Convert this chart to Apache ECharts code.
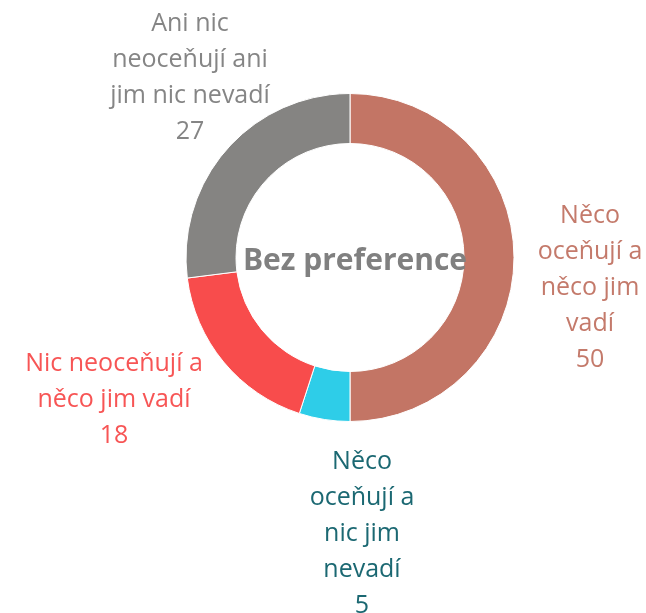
<!DOCTYPE html>
<html>
<head>
<meta charset="utf-8">
<script src="https://cdn.jsdelivr.net/npm/echarts@6/dist/echarts.min.js"></script>
<style>html,body{margin:0;padding:0;background:#fff;}#c{width:646px;height:613px;}</style>
</head>
<body>
<div id="c"></div>
<script>
const categories = [
  'Něco\noceňují a\nněco jim\nvadí',
  'Něco\noceňují a\nnic jim\nnevadí',
  'Nic neoceňují a\nněco jim vadí',
  'Ani nic\nneoceňují ani\njim nic nevadí'
];
const values = [50, 5, 18, 27];
const sliceColors = ['#C37565', '#2ECDE8', '#F84C4C', '#858482'];
const labelColors = ['#C47A6B', '#1B6872', '#F75555', '#858585'];
const centerTitle = 'Bez preference';

// label anchor points (layout only)
const labelPos = [[590, 288], [362, 534], [114, 400], [190, 78]];

const chart = echarts.init(document.getElementById('c'), null, {renderer: 'canvas'});
chart.setOption({
  animation: false,
  title: {
    text: centerTitle,
    left: 350, top: 256,
    textAlign: 'center', textVerticalAlign: 'middle',
    textStyle: {fontFamily: 'Open Sans', fontWeight: 'bold', fontSize: 30, color: '#808080'}
  },
  series: [{
    type: 'pie',
    center: [350, 257.5],
    radius: [114, 164],
    startAngle: 90,
    clockwise: true,
    avoidLabelOverlap: false,
    itemStyle: {borderColor: '#fff', borderWidth: 1},
    labelLine: {show: false},
    label: {
      show: true,
      position: 'outside',
      formatter: '{b}\n{c}',
      fontFamily: 'Open Sans',
      fontSize: 25,
      lineHeight: 36,
      align: 'center'
    },
    labelLayout: function (p) {
      const pos = labelPos[p.dataIndex];
      return {x: pos[0], y: pos[1], align: 'center', verticalAlign: 'middle'};
    },
    data: values.map((v, i) => ({
      name: categories[i],
      value: v,
      itemStyle: {color: sliceColors[i]},
      label: {color: labelColors[i]}
    }))
  }]
});
</script>
</body>
</html>
